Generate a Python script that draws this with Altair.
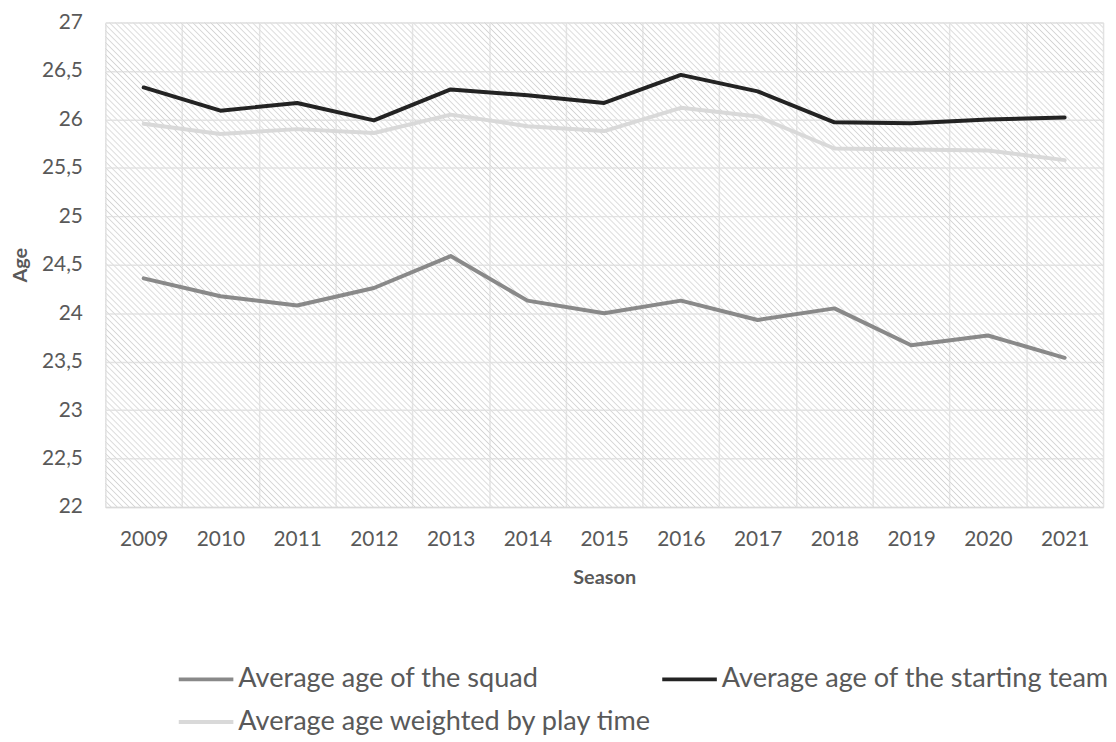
import altair as alt
import pandas as pd

seasons = [2009, 2010, 2011, 2012, 2013, 2014, 2015, 2016, 2017, 2018, 2019, 2020, 2021]
squad = [24.36, 24.175, 24.08, 24.26, 24.59, 24.13, 24.0, 24.13, 23.93, 24.05, 23.67, 23.77, 23.54]
starting = [26.33, 26.09, 26.17, 25.99, 26.31, 26.25, 26.17, 26.46, 26.29, 25.97, 25.96, 26.0, 26.02]
weighted = [25.955, 25.85, 25.90, 25.86, 26.05, 25.93, 25.88, 26.12, 26.03, 25.70, 25.69, 25.68, 25.58]

series_names = [
    "Average age of the squad",
    "Average age of the starting team",
    "Average age weighted by play time",
]
series_colors = ["#898989", "#232323", "#d9d9d9"]
# legend fills column by column: squad, weighted | starting
legend_order = [series_names[0], series_names[2], series_names[1]]
legend_colors = [series_colors[0], series_colors[2], series_colors[1]]
y_ticks = [22, 22.5, 23, 23.5, 24, 24.5, 25, 25.5, 26, 26.5, 27]

rows = []
for name, vals in zip(series_names, [squad, starting, weighted]):
    for s, v in zip(seasons, vals):
        rows.append({"season": s, "series": name, "age": v})
df = pd.DataFrame(rows)

W, H = 1005, 488
FONT = "Lato"
TXT = "#595959"

# diagonal hatch texture (soft stripes with transparent gaps so grid shows through)
period = 6.0 / (W + H)  # 6 px horizontal repeat
clear = "rgba(255,255,255,0)"
stripe = "#d4d4d4"
stops = []
a = 0.0
while a < 1.0:
    for frac, col in [(0.0, stripe), (0.3, clear), (0.7, clear)]:
        off = a + frac * period
        if off <= 1.0:
            stops.append({"offset": off, "color": col})
    a += period
stops.append({"offset": 1.0, "color": stripe})
k = H / W
s = (1 + k) / (1 + k * k)
hatch = {"gradient": "linear", "x1": 0, "y1": 1, "x2": s, "y2": 1 - s * k, "stops": stops}

bg = alt.Chart(pd.DataFrame({"d": [0]})).mark_rect(fill=hatch).encode(
    x=alt.value(0), x2=alt.value("width"), y=alt.value(0), y2=alt.value("height")
)

lines = alt.Chart(df).mark_line(strokeWidth=4, strokeCap="round", strokeJoin="round").encode(
    x=alt.X(
        "season:O",
        scale=alt.Scale(type="band", paddingInner=0, paddingOuter=0),
        bandPosition=0.5,
        axis=alt.Axis(
            title="Season", labelAngle=0, tickBand="extent", ticks=False,
            grid=True, gridColor="#e2e2e2", gridWidth=1.5,
            domainColor="#d9d9d9", domainWidth=1.5,
            labelFontSize=21, labelColor=TXT, labelPadding=22, labelFont=FONT,
            titleFontSize=20, titleFontWeight="bold", titleColor=TXT, titlePadding=18, titleFont=FONT,
        ),
    ),
    y=alt.Y(
        "age:Q",
        scale=alt.Scale(domain=[22, 27], nice=False, zero=False),
        axis=alt.Axis(
            title="Age", values=y_ticks, labelExpr="replace(toString(datum.value), '.', ',')",
            domain=False, ticks=False, grid=True, gridColor="#e2e2e2", gridWidth=1.5,
            labelFontSize=21, labelColor=TXT, labelPadding=23, labelFont=FONT,
            titleFontSize=20, titleFontWeight="bold", titleColor=TXT, titlePadding=11, titleFont=FONT,
        ),
    ),
    color=alt.Color(
        "series:N",
        scale=alt.Scale(domain=legend_order, range=legend_colors),
        legend=alt.Legend(
            title=None, orient="none", legendX=72, legendY=632, columns=2,
            symbolType="stroke", symbolSize=3025, symbolStrokeWidth=4,
            labelFontSize=27.3, labelColor=TXT, labelFont=FONT, labelLimit=700,
            labelOffset=3, columnPadding=2, rowPadding=-5, padding=0,
        ),
    ),
    order=alt.Order("season:O"),
)

chart = (
    alt.layer(bg, lines)
    .properties(
        width=W, height=H,
        autosize=alt.AutoSizeParams(type="none"),
        padding={"left": 98, "top": 12, "right": 5, "bottom": 228},
    )
    .configure_view(stroke=None)
    .configure(font=FONT, background="white")
)

chart.save("out.html", embed_options={"renderer": "svg", "actions": False})
